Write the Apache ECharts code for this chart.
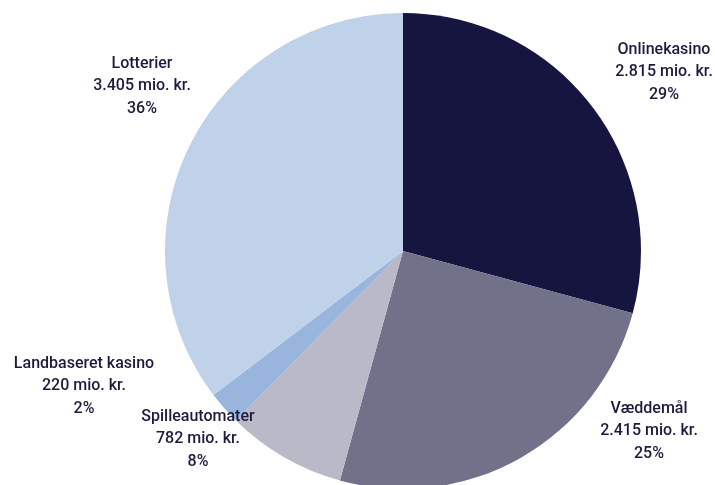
<!DOCTYPE html>
<html>
<head>
<meta charset="utf-8">
<script src="https://cdn.jsdelivr.net/npm/echarts@6/dist/echarts.min.js"></script>
<style>
  html, body { margin: 0; padding: 0; background: #fff; }
  #chart { width: 715px; height: 485px; }
</style>
</head>
<body>
<div id="chart"></div>
<script>
// Omsætning fordelt på spilleområder (mio. kr.)
const categories = ['Onlinekasino', 'Væddemål', 'Spilleautomater', 'Landbaseret kasino', 'Lotterier'];
const amounts = [2815, 2415, 782, 220, 3405];
const amountLabels = ['2.815', '2.415', '782', '220', '3.405'];
const shareLabels = ['29%', '25%', '8%', '2%', '36%'];
const sliceColors = ['#16153f', '#717189', '#b9b9c7', '#99b5de', '#bfd2e9'];

// Label anchor points (centre of the middle text line)
const labelAnchors = [[664, 72], [649, 431], [198, 439], [84, 386], [142, 86]];

const chart = echarts.init(document.getElementById('chart'), null, { renderer: 'canvas' });

chart.setOption({
  animation: false,
  series: [{
    type: 'pie',
    center: [403, 251],
    radius: [0, 238],
    startAngle: 90,
    clockwise: true,
    data: categories.map((name, i) => ({
      name,
      value: amounts[i],
      itemStyle: { color: sliceColors[i] }
    })),
    label: {
      show: true,
      position: 'outside',
      overflow: 'none',
      fontFamily: 'Roboto',
      fontWeight: 500,
      fontSize: 16,
      lineHeight: 22.5,
      color: '#1c1b3d',
      align: 'center',
      formatter: p => p.name + '\n' + amountLabels[p.dataIndex] + ' mio. kr.\n' + shareLabels[p.dataIndex]
    },
    labelLine: { show: false },
    labelLayout: p => ({
      x: labelAnchors[p.dataIndex][0],
      y: labelAnchors[p.dataIndex][1],
      align: 'center',
      verticalAlign: 'middle'
    }),
    emphasis: { disabled: true }
  }]
});
</script>
</body>
</html>
